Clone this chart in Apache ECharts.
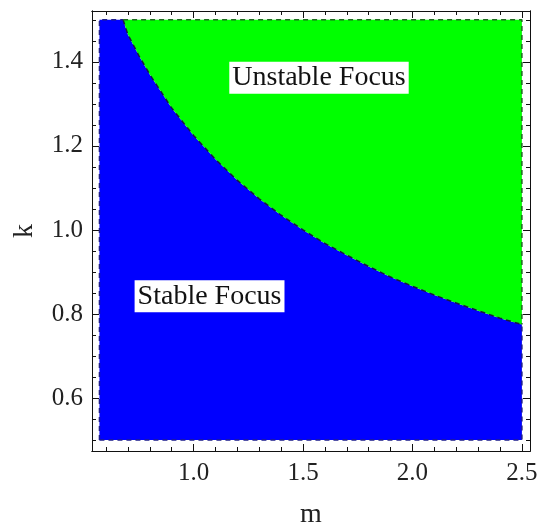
<!DOCTYPE html>
<html>
<head>
<meta charset="utf-8">
<script src="https://cdn.jsdelivr.net/npm/echarts@6/dist/echarts.min.js"></script>
<style>
  html, body { margin: 0; padding: 0; background: #fff; }
  #chart { width: 550px; height: 532px; }
</style>
</head>
<body>
<div id="chart"></div>
<script>
// plotted region
const mMin = 0.57, mMax = 2.5
const kMin = 0.5, kMax = 1.5
// frame range (Mathematica style padding)
const xMin = 0.536, xMax = 2.537
const yMin = 0.474, yMax = 1.521

// boundary between the two regions
const mBoundary = [0.678, 0.7, 0.75, 0.8, 0.9, 1.0, 1.1, 1.2, 1.3, 1.4, 1.5, 1.6, 1.7, 1.8, 1.9, 2.0, 2.1, 2.2, 2.3, 2.4, 2.5]
const kBoundary = [1.5, 1.465, 1.415, 1.37, 1.29, 1.225, 1.168, 1.118, 1.074, 1.035, 1.0, 0.968, 0.94, 0.913, 0.888, 0.866, 0.845, 0.826, 0.808, 0.79, 0.775]

// ticks
const xMajor = [1.0, 1.5, 2.0, 2.5]
const xMinor = [0.6, 0.7, 0.8, 0.9, 1.1, 1.2, 1.3, 1.4, 1.6, 1.7, 1.8, 1.9, 2.1, 2.2, 2.3, 2.4]
const yMajor = [0.6, 0.8, 1.0, 1.2, 1.4]
const yMinor = [0.5, 0.55, 0.65, 0.7, 0.75, 0.85, 0.9, 0.95, 1.05, 1.1, 1.15, 1.25, 1.3, 1.35, 1.45, 1.5]

const regionNames = ['Unstable Focus', 'Stable Focus']
const regionLabelPos = [[1.573, 1.362], [1.073, 0.842]]

const FONT = '"Liberation Serif", "DejaVu Serif", serif'
const curve = mBoundary.map((m, i) => [m, kBoundary[i]])
const kRight = kBoundary[kBoundary.length - 1]

function xAxisDef(pos, ticks, len, labels) {
  return {
    type: 'value', position: pos, min: xMin, max: xMax,
    axisLine: { show: true, onZero: false, lineStyle: { color: '#111', width: 1 } },
    axisTick: { show: true, inside: true, length: len, customValues: ticks, lineStyle: { color: '#111' } },
    axisLabel: labels ? {
      show: true, customValues: ticks, margin: 10,
      formatter: v => v.toFixed(1), color: '#222', fontFamily: FONT, fontSize: 25
    } : { show: false },
    splitLine: { show: false }
  }
}
function yAxisDef(pos, ticks, len, labels) {
  return {
    type: 'value', position: pos, min: yMin, max: yMax,
    axisLine: { show: true, onZero: false, lineStyle: { color: '#111', width: 1 } },
    axisTick: { show: true, inside: true, length: len, customValues: ticks, lineStyle: { color: '#111' } },
    axisLabel: labels ? {
      show: true, customValues: ticks, margin: 9,
      formatter: v => v.toFixed(1), color: '#222', fontFamily: FONT, fontSize: 25
    } : { show: false },
    splitLine: { show: false }
  }
}

const xAxes = [
  xAxisDef('bottom', xMajor, 7, true),
  xAxisDef('bottom', xMinor, 4, false),
  xAxisDef('top', xMajor, 7, false),
  xAxisDef('top', xMinor, 4, false)
]
Object.assign(xAxes[0], {
  name: 'm', nameLocation: 'middle', nameGap: 50,
  nameTextStyle: { fontFamily: FONT, fontSize: 28, color: '#222' }
})
const yAxes = [
  yAxisDef('left', yMajor, 7, true),
  yAxisDef('left', yMinor, 4, false),
  yAxisDef('right', yMajor, 7, false),
  yAxisDef('right', yMinor, 4, false)
]
Object.assign(yAxes[0], {
  name: 'k', nameLocation: 'middle', nameGap: 53, nameRotate: 90,
  nameTextStyle: { fontFamily: FONT, fontSize: 28, color: '#222' }
})

function edge(data, color) {
  return {
    type: 'line', data, symbol: 'none', silent: true, z: 4,
    lineStyle: { color, width: 1.5, type: [5, 4] }
  }
}

const chart = echarts.init(document.getElementById('chart'), null, { renderer: 'canvas' })
chart.setOption({
  animation: false,
  backgroundColor: '#fff',
  grid: { left: 92, right: 20, top: 11, bottom: 81, containLabel: false, outerBoundsMode: 'none' },
  xAxis: xAxes,
  yAxis: yAxes,
  series: [
    {
      // stable region: below the curve
      type: 'line', symbol: 'none', silent: true, z: 2,
      data: [[mMin, kMax]].concat(curve),
      lineStyle: { width: 0 },
      areaStyle: { color: '#0000ff', opacity: 1, origin: kMin }
    },
    {
      // unstable region: above the curve
      type: 'line', symbol: 'none', silent: true, z: 2,
      data: curve,
      lineStyle: { width: 0 },
      areaStyle: { color: '#00ff00', opacity: 1, origin: kMax }
    },
    edge(curve, '#1a1a40'),
    edge([[mMin, kMin], [mMin, kMax], [mBoundary[0], kMax]], '#1c1c8c'),
    edge([[mMin, kMin], [mMax, kMin], [mMax, kRight]], '#1c1c8c'),
    edge([[mBoundary[0], kMax], [mMax, kMax], [mMax, kRight]], '#1f6a1f'),
    {
      type: 'scatter', symbolSize: 0, z: 10, silent: true,
      itemStyle: { opacity: 1 },
      data: regionNames.map((n, i) => ({ name: n, value: regionLabelPos[i] })),
      label: {
        show: true, position: 'inside', formatter: p => p.name, opacity: 1,
        fontFamily: FONT, fontSize: 28, color: '#111',
        backgroundColor: '#fff', padding: [1, 3, 1, 3], lineHeight: 30
      }
    }
  ]
})
</script>
</body>
</html>
